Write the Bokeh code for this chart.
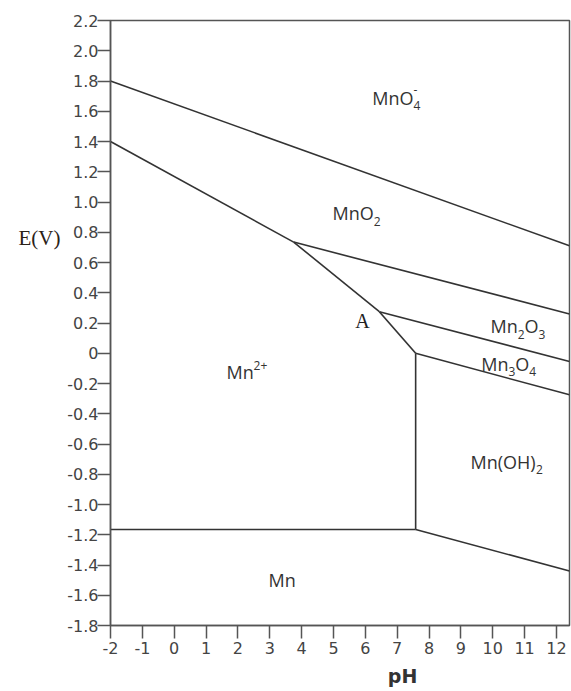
from bokeh.plotting import figure
from bokeh.models import ColumnDataSource, FixedTicker, Label, LinearAxis, Range1d
from bokeh.core.properties import value
from bokeh.embed import file_html
from bokeh.resources import INLINE

# Pourbaix (E–pH) diagram of manganese: stability boundaries
mno4_mno2_x = [-2.0, 12.41]
mno4_mno2_y = [1.80, 0.71]
mn2_mno2_x = [-2.0, 3.75]
mn2_mno2_y = [1.40, 0.735]
mno2_mn2o3_x = [3.75, 12.41]
mno2_mn2o3_y = [0.735, 0.26]
mn2_mn2o3_x = [3.75, 6.44]
mn2_mn2o3_y = [0.735, 0.275]
mn2_mn3o4_x = [6.44, 7.58]
mn2_mn3o4_y = [0.275, 0.0]
mn2o3_mn3o4_x = [6.44, 12.41]
mn2o3_mn3o4_y = [0.275, -0.055]
mn3o4_mnoh2_x = [7.58, 12.41]
mn3o4_mnoh2_y = [0.0, -0.275]
mn2_mnoh2_x = [7.58, 7.58]
mn2_mnoh2_y = [0.0, -1.165]
mn_mn2_x = [-2.0, 7.58]
mn_mn2_y = [-1.165, -1.165]
mn_mnoh2_x = [7.58, 12.41]
mn_mnoh2_y = [-1.165, -1.44]

ph_ticks = list(range(-2, 13))
e_ticks = [-1.8, -1.6, -1.4, -1.2, -1.0, -0.8, -0.6, -0.4, -0.2, 0.0,
           0.2, 0.4, 0.6, 0.8, 1.0, 1.2, 1.4, 1.6, 1.8, 2.0, 2.2]
e_tick_labels = ["-1.8", "-1.6", "-1.4", "-1.2", "-1.0", "-0.8", "-0.6", "-0.4", "-0.2", "0",
                 "0.2", "0.4", "0.6", "0.8", "1.0", "1.2", "1.4", "1.6", "1.8", "2.0", "2.2"]

# species labels: (x, y, [(text, kind), ...])
species = [
    (6.22, 1.69, [("MnO", "b"), ("4", "sub"), ("-", "stack")]),
    (4.97, 0.925, [("MnO", "b"), ("2", "sub")]),
    (1.64, -0.127, [("Mn", "b"), ("2+", "sup")]),
    (2.96, -1.50, [("Mn", "b")]),
    (9.93, 0.177, [("Mn", "b"), ("2", "sub"), ("O", "b"), ("3", "sub")]),
    (9.64, -0.068, [("Mn", "b"), ("3", "sub"), ("O", "b"), ("4", "sub")]),
    (9.30, -0.717, [("Mn(OH)", "b"), ("2", "sub")]),
]

EM = {"M": 0.90, "n": 0.61, "O": 0.78, "H": 0.75, "(": 0.30, ")": 0.30,
      "+": 0.57, "-": 0.32}
BASE_SIZE, SMALL_SIZE = 18, 12


def text_width(s, size):
    return sum(EM.get(c, 0.57) for c in s) * size


lx, ly, lt, lxo, lyo, lsz = [], [], [], [], [], []
for x0, y0, parts in species:
    adv = 0.0
    prev = 0.0
    for txt, kind in parts:
        if kind == "b":
            size, dy, xo = BASE_SIZE, 0, adv
        elif kind == "sub":
            size, dy, xo = SMALL_SIZE, 8, adv
        elif kind == "sup":
            size, dy, xo = SMALL_SIZE, -7, adv
        else:  # superscript stacked over the preceding subscript
            size, dy, xo = SMALL_SIZE, -8, prev
        lx.append(x0)
        ly.append(y0)
        lt.append(txt)
        lxo.append(xo)
        lyo.append(dy)
        lsz.append(f"{size}px")
        if kind != "stack":
            prev = adv
            adv += text_width(txt, size)

p = figure(width=571, height=691,
           x_range=Range1d(-2, 12.41), y_range=Range1d(-1.8, 2.2),
           output_backend="svg", toolbar_location=None,
           min_border_left=110, min_border_right=2,
           min_border_top=20, min_border_bottom=66)
p.xgrid.visible = False
p.ygrid.visible = False
p.outline_line_color = "#555555"
p.outline_line_width = 1.5
p.background_fill_color = "white"
p.border_fill_color = "white"

xs = [mno4_mno2_x, mn2_mno2_x, mno2_mn2o3_x, mn2_mn2o3_x, mn2_mn3o4_x,
      mn2o3_mn3o4_x, mn3o4_mnoh2_x, mn2_mnoh2_x, mn_mn2_x, mn_mnoh2_x]
ys = [mno4_mno2_y, mn2_mno2_y, mno2_mn2o3_y, mn2_mn2o3_y, mn2_mn3o4_y,
      mn2o3_mn3o4_y, mn3o4_mnoh2_y, mn2_mnoh2_y, mn_mn2_y, mn_mnoh2_y]
p.multi_line(xs=xs, ys=ys, line_color="#333333", line_width=1.6)

src = ColumnDataSource(dict(x=lx, y=ly, text=lt, xo=lxo, yo=lyo, size=lsz))
p.text(x="x", y="y", text="text", x_offset="xo", y_offset="yo",
       text_font_size="size", source=src, text_font=value("Open Sans"),
       text_color="#333333", text_align="left", text_baseline="middle")

p.add_layout(Label(x=5.91, y=0.213, text="A", text_font="Liberation Serif",
                   text_font_size="20px", text_color="#222222",
                   text_align="center", text_baseline="middle"))

for ax in (p.xaxis[0], p.yaxis[0]):
    ax.axis_line_color = "#555555"
    ax.axis_line_width = 1.5
    ax.major_tick_line_color = "#555555"
    ax.major_tick_line_width = 1.5
    ax.minor_tick_line_color = None
    ax.major_tick_in = 0
    ax.major_tick_out = 13
    ax.major_label_text_font = "DejaVu Sans"
    ax.major_label_text_font_size = "16px"
    ax.major_label_text_color = "#444444"

p.xaxis.ticker = FixedTicker(ticks=ph_ticks)
p.xaxis.major_label_overrides = {t: str(t) for t in ph_ticks}
p.xaxis.major_label_standoff = 3
p.yaxis.ticker = FixedTicker(ticks=e_ticks)
p.yaxis.major_label_overrides = dict(zip(e_ticks, e_tick_labels))
p.yaxis.major_label_standoff = -1


def title_axis(text, at, **kw):
    # line-less axis carrying a single tick label as the axis title
    return LinearAxis(ticker=FixedTicker(ticks=[at]),
                      major_label_overrides={at: text},
                      axis_line_color=None, major_tick_line_color=None,
                      minor_tick_line_color=None,
                      major_tick_in=0, major_tick_out=0, **kw)


ph_axis = title_axis("pH", 7.17,
                     major_label_text_font="DejaVu Sans",
                     major_label_text_font_size="19px",
                     major_label_text_font_style="bold",
                     major_label_text_color="#333333",
                     major_label_standoff=8)
p.add_layout(ph_axis, "below")

e_axis = title_axis("E(V)", 0.759,
                    major_label_text_font="Liberation Serif",
                    major_label_text_font_size="21px",
                    major_label_text_color="#2a2116",
                    major_label_standoff=4)
p.add_layout(e_axis, "left")

open("out.html", "w").write(file_html(p, INLINE))
